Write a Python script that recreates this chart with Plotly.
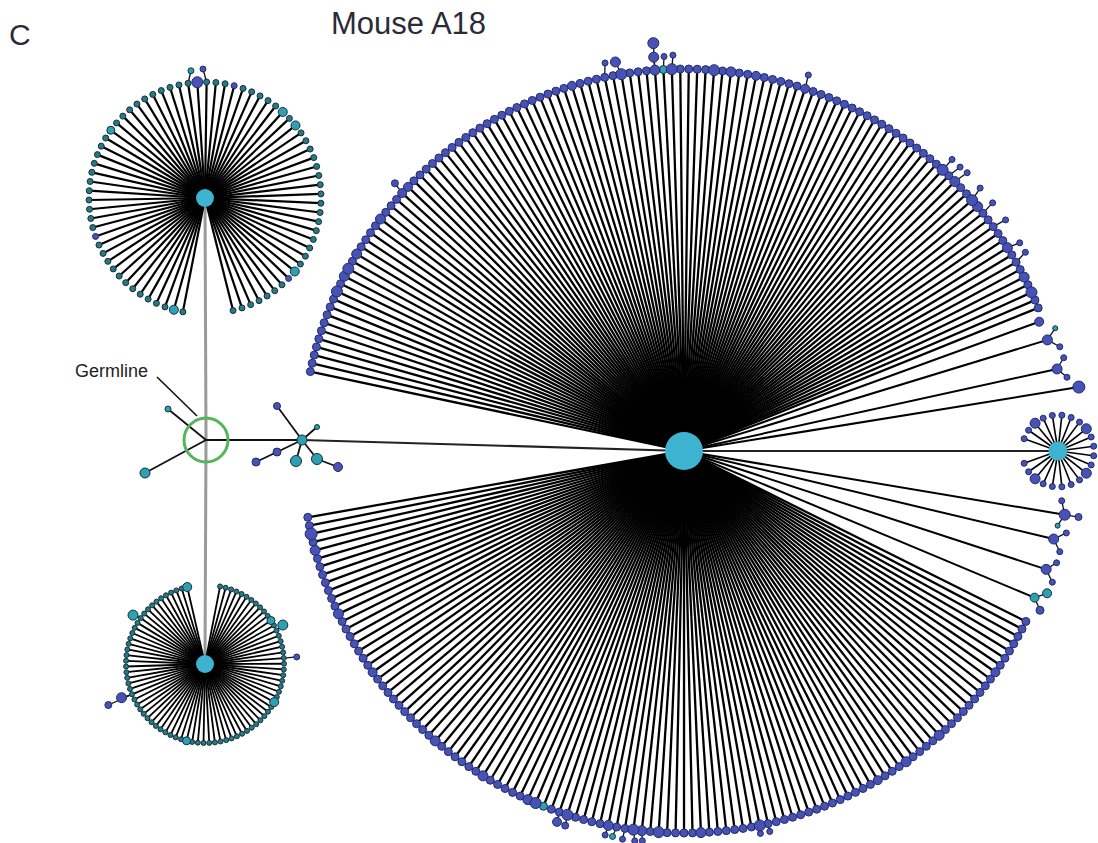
import math
import plotly.graph_objects as go

W, H = 1098, 843

# ---------------- text ----------------
TITLE = "Mouse A18"
PANEL_LABEL = "C"
GERMLINE_LABEL = "Germline"

# ---------------- layout data (px-like units, y grows downward) ----------------
GERMLINE_X = 206
GERMLINE_Y = 440

HUB_NAME = ["main", "top", "bottom", "right"]
HUB_X = [684, 205, 205, 1058]
HUB_Y = [451, 198, 664, 451]
HUB_SIZE = [38, 18, 18, 19]

# fans of leaves around each hub (angles in degrees, counter-clockwise from east)
FAN_HUB = ["main", "main", "top", "bottom", "right"]
FAN_START = [22, 190, -76, 103, 200]
FAN_END = [168, 333.5, 259, 439, 520]
FAN_COUNT = [116, 114, 74, 82, 22]
FAN_RADIUS = [382, 382, 116, 79, 36]
FAN_LEAF_SIZE = [8, 8, 6, 5, 6]
FAN_LEAF_KIND = ["blue", "blue", "dark", "dark", "blue"]
FAN_LINE_WIDTH = [2.3, 2.3, 2.2, 1.8, 1.6]

# individually drawn (sparser) rays
EXTRA_HUB = ["main"] * 8
EXTRA_ANGLE = [17.0, 12.4, 9.2, -9.5, -13.4, -18.1, -22.7, 20.0]
EXTRA_RADIUS = [380, 382, 400, 386, 380, 381, 380, 378]
EXTRA_SIZE = [10, 10, 12, 11, 10, 10, 9, 9]
EXTRA_KIND = ["blue", "blue", "blue", "blue", "blue", "blue", "teal", "blue"]

# leaves with a different size / colour (hub, angle, size, kind)
SPECIAL_HUB = (["main"] * 43 + ["top"] * 9 + ["bottom"] * 4 + ["right"] * 4)
SPECIAL_ANGLE = [148.7, 151.5, 153, 155.9, 143, 137, 135.7, 100, 94.5, 91.3,
                 85.8, 83, 107, 71.3, 78.6, 47.3, 44.4, 41.6, 39.7, 31.7,
                 27.4, 24.4, 245.6, 246.9, 252, 258, 262, 263.8, 266.7, 272.4,
                 282, 192, 195, 205, 215, 230, 238, 300, 305, 312,
                 93, 248, 325,
                 96, 47.5, 37.3, 253.8, -37.3, 200, -42, 76.6, 144.6,
                 103, 31.5, -27.5, 256,
                 126, 40.6, 234, 317]
SPECIAL_SIZE = [10, 11, 10, 11, 10, 9, 9, 11, 10, 11,
                11, 10, 9, 9, 9, 11, 10, 11, 10, 10,
                10, 11, 10, 11, 11, 10, 11, 10, 11, 10,
                11, 12, 10, 10, 9, 10, 10, 9, 10, 10,
                8, 8, 9,
                11, 9, 9, 9, 9, 6, 6, 6, 8,
                9, 8, 9, 8,
                10, 10, 10, 10]
SPECIAL_KIND = (["blue"] * 40 + ["teal", "teal", "blue"]
                + ["blue", "teal", "teal", "teal", "teal", "blue", "blue", "blue", "teal"]
                + ["teal"] * 4 + ["blue"] * 4)

# small descendants sitting just outside a leaf (hub, angle, radius, size, kind)
CHILD_HUB = (["main"] * 34 + ["top"] * 2 + ["bottom"] * 5)
CHILD_ANGLE = [101.5, 100.0, 94.4, 94.3, 92.9, 91.6, 71.7,
               47.4, 45.8, 44.5, 41.6, 38.8, 35.7, 31.8, 30.2, 137.2,
               251.1, 252.4, 258.4, 259.5, 261, 262.8, 263.9, 281.3, 282.7,
               18.3, 15.5, 13.8, 10.9, -9.5, -11.3, -12.1, -15.0, -16.7,
               96.3, 90.9,
               145.8, 26.6, 202, 203, 4.4]
CHILD_RADIUS = [396, 395, 395, 409, 395, 396, 396,
                396, 396, 397, 396, 396, 396, 395, 395, 394,
                392, 393, 392, 392, 393, 393, 392, 390, 390,
                391, 390, 391, 390, 400, 381, 391, 389, 389,
                128, 129,
                87, 87, 90, 105, 92]
CHILD_SIZE = [6, 10, 10, 11, 6, 6, 6,
              6, 6, 6, 6, 6, 6, 6, 6, 7,
              9, 7, 6, 6, 6, 6, 6, 6, 6,
              5, 6, 6, 6, 7, 5, 6, 6, 6,
              6, 6,
              10, 10, 10, 7, 6]
CHILD_KIND = (["blue"] * 19 + ["teal"] + ["blue"] * 5
              + ["teal", "blue", "blue", "blue", "blue", "teal", "blue", "blue", "blue"]
              + ["teal", "blue"]
              + ["teal", "teal", "blue", "blue", "blue"])

# extra children on the lower-right rays
CHILD2_ANGLE = [-21.4, -24.1, -19.6, -7.5]
CHILD2_RADIUS = [390, 390, 391, 381]
CHILD2_SIZE = [9, 8, 6, 6]
CHILD2_KIND = ["teal", "blue", "blue", "blue"]

# germline branch nodes: parent index (0 = germline), offset from parent, size, kind
BRANCH_PARENT = [0, 0, 0, 3, 3, 3, 3, 3, 7, 8]
BRANCH_DX = [-38, -61, 96, -25, 15, -6, 15, -25, 21, -21]
BRANCH_DY = [-31, 33, 0, -34, -13, 21, 19, 12, 8, 10]
BRANCH_SIZE = [6, 10, 10, 7, 5, 11, 11, 8, 9, 8]
BRANCH_KIND = ["teal", "teal", "teal", "blue", "teal", "teal", "teal", "blue", "blue", "blue"]

# ---------------- styles ----------------
FILL = {"blue": "#4652b4", "teal": "#2fa0b4", "dark": "#2a7884"}
EDGE = {"blue": "#232a6a", "teal": "#15323a", "dark": "#13303a"}
HUB_COLOR = "#3db3d1"
GERM_COLOR = "#57b45b"


def polar(cx, cy, ang, r):
    a = math.radians(ang)
    return cx + r * math.cos(a), cy - r * math.sin(a)


def angdiff(a, b):
    d = (a - b) % 360
    return min(d, 360 - d)


hub_xy = {n: (x, y) for n, x, y in zip(HUB_NAME, HUB_X, HUB_Y)}
leaves = {n: [] for n in HUB_NAME}

ray_traces = []
for hub, a0, a1, n, r, sz, kind, lw in zip(FAN_HUB, FAN_START, FAN_END, FAN_COUNT,
                                           FAN_RADIUS, FAN_LEAF_SIZE, FAN_LEAF_KIND,
                                           FAN_LINE_WIDTH):
    cx, cy = hub_xy[hub]
    xs, ys = [], []
    for i in range(n):
        ang = a0 + (a1 - a0) * i / (n - 1)
        x, y = polar(cx, cy, ang, r)
        leaves[hub].append({"a": ang, "x": x, "y": y, "s": sz, "k": kind})
        xs += [cx, x, None]
        ys += [cy, y, None]
    ray_traces.append(go.Scatter(x=xs, y=ys, mode="lines",
                                 line=dict(color="#000000", width=lw),
                                 hoverinfo="skip", showlegend=False))

xs, ys = [], []
for hub, ang, r, sz, kind in zip(EXTRA_HUB, EXTRA_ANGLE, EXTRA_RADIUS, EXTRA_SIZE, EXTRA_KIND):
    cx, cy = hub_xy[hub]
    x, y = polar(cx, cy, ang, r)
    leaves[hub].append({"a": ang % 360, "x": x, "y": y, "s": sz, "k": kind})
    xs += [cx, x, None]
    ys += [cy, y, None]
ray_traces.append(go.Scatter(x=xs, y=ys, mode="lines",
                             line=dict(color="#000000", width=2.0),
                             hoverinfo="skip", showlegend=False))


def nearest(hub, ang):
    return min(leaves[hub], key=lambda lf: angdiff(lf["a"], ang))


for hub, ang, sz, kind in zip(SPECIAL_HUB, SPECIAL_ANGLE, SPECIAL_SIZE, SPECIAL_KIND):
    lf = nearest(hub, ang)
    lf["s"] = sz
    lf["k"] = kind

nodes = []
for hub in HUB_NAME:
    nodes += leaves[hub]

cxs, cys = [], []
child_nodes = []
all_children = list(zip(CHILD_HUB, CHILD_ANGLE, CHILD_RADIUS, CHILD_SIZE, CHILD_KIND))
all_children += list(zip(["main"] * len(CHILD2_ANGLE), CHILD2_ANGLE, CHILD2_RADIUS,
                         CHILD2_SIZE, CHILD2_KIND))
for hub, ang, r, sz, kind in all_children:
    cx, cy = hub_xy[hub]
    par = nearest(hub, ang)
    x, y = polar(cx, cy, ang, r)
    cxs += [par["x"], x, None]
    cys += [par["y"], y, None]
    child_nodes.append({"x": x, "y": y, "s": sz, "k": kind})

# germline branches
bpos = [(GERMLINE_X, GERMLINE_Y)]
bxs, bys = [], []
branch_nodes = []
for p, dx, dy, sz, kind in zip(BRANCH_PARENT, BRANCH_DX, BRANCH_DY, BRANCH_SIZE, BRANCH_KIND):
    px, py = bpos[p]
    x, y = px + dx, py + dy
    bpos.append((x, y))
    bxs += [px, x, None]
    bys += [py, y, None]
    branch_nodes.append({"x": x, "y": y, "s": sz, "k": kind})
inter = bpos[3]

fig = go.Figure()

mx, my = hub_xy["main"]
tx, ty = hub_xy["top"]
bx, by = hub_xy["bottom"]
rx, ry = hub_xy["right"]
fig.add_trace(go.Scatter(x=[GERMLINE_X, tx, None, GERMLINE_X, bx],
                         y=[GERMLINE_Y, ty, None, GERMLINE_Y, by],
                         mode="lines", line=dict(color="#9a9a9a", width=3),
                         hoverinfo="skip", showlegend=False))
for t in ray_traces:
    fig.add_trace(t)
fig.add_trace(go.Scatter(x=[inter[0], mx, None, mx, rx], y=[inter[1], my, None, my, ry],
                         mode="lines", line=dict(color="#222222", width=2.2),
                         hoverinfo="skip", showlegend=False))
fig.add_trace(go.Scatter(x=bxs, y=bys, mode="lines",
                         line=dict(color="#111111", width=1.8),
                         hoverinfo="skip", showlegend=False))
fig.add_trace(go.Scatter(x=cxs, y=cys, mode="lines",
                         line=dict(color="#111111", width=1.3),
                         hoverinfo="skip", showlegend=False))

# leader line for germline label
fig.add_trace(go.Scatter(x=[157, 197], y=[377, 416], mode="lines",
                         line=dict(color="#111111", width=1.6),
                         hoverinfo="skip", showlegend=False))

all_nodes = nodes + child_nodes + branch_nodes
all_nodes.sort(key=lambda d: d["s"])
fig.add_trace(go.Scatter(
    x=[d["x"] for d in all_nodes], y=[d["y"] for d in all_nodes], mode="markers",
    marker=dict(size=[d["s"] for d in all_nodes], opacity=1,
                color=[FILL[d["k"]] for d in all_nodes],
                line=dict(color=[EDGE[d["k"]] for d in all_nodes], width=1)),
    hoverinfo="skip", showlegend=False))

# hubs
fig.add_trace(go.Scatter(x=HUB_X, y=HUB_Y, mode="markers",
                         marker=dict(size=HUB_SIZE, color=HUB_COLOR, opacity=1,
                                     line=dict(width=0)),
                         hoverinfo="skip", showlegend=False))

# germline ring
fig.add_trace(go.Scatter(x=[GERMLINE_X], y=[GERMLINE_Y], mode="markers",
                         marker=dict(size=44, color="rgba(0,0,0,0)", opacity=1,
                                     line=dict(color=GERM_COLOR, width=3)),
                         hoverinfo="skip", showlegend=False))

fig.add_annotation(x=20, y=34, text=PANEL_LABEL, showarrow=False, xref="x", yref="y",
                   font=dict(family="Liberation Sans, Arial", size=30, color="#2a2b38"))
fig.add_annotation(x=408, y=23, text=TITLE, showarrow=False, xref="x", yref="y",
                   font=dict(family="Liberation Sans, Arial", size=31, color="#2a2b38"))
fig.add_annotation(x=150, y=371, text=GERMLINE_LABEL, showarrow=False, xref="x", yref="y",
                   xanchor="right",
                   font=dict(family="Liberation Sans, Arial", size=18, color="#222222"))

fig.update_layout(
    width=W, height=H, margin=dict(l=0, r=0, t=0, b=0),
    paper_bgcolor="white", plot_bgcolor="white",
    xaxis=dict(range=[0, W], visible=False, fixedrange=True),
    yaxis=dict(range=[H, 0], visible=False, fixedrange=True),
    showlegend=False,
)

fig.write_html("out.html", config={"displayModeBar": False},
               post_script="document.body.style.margin='0';document.body.style.overflow='hidden';")
